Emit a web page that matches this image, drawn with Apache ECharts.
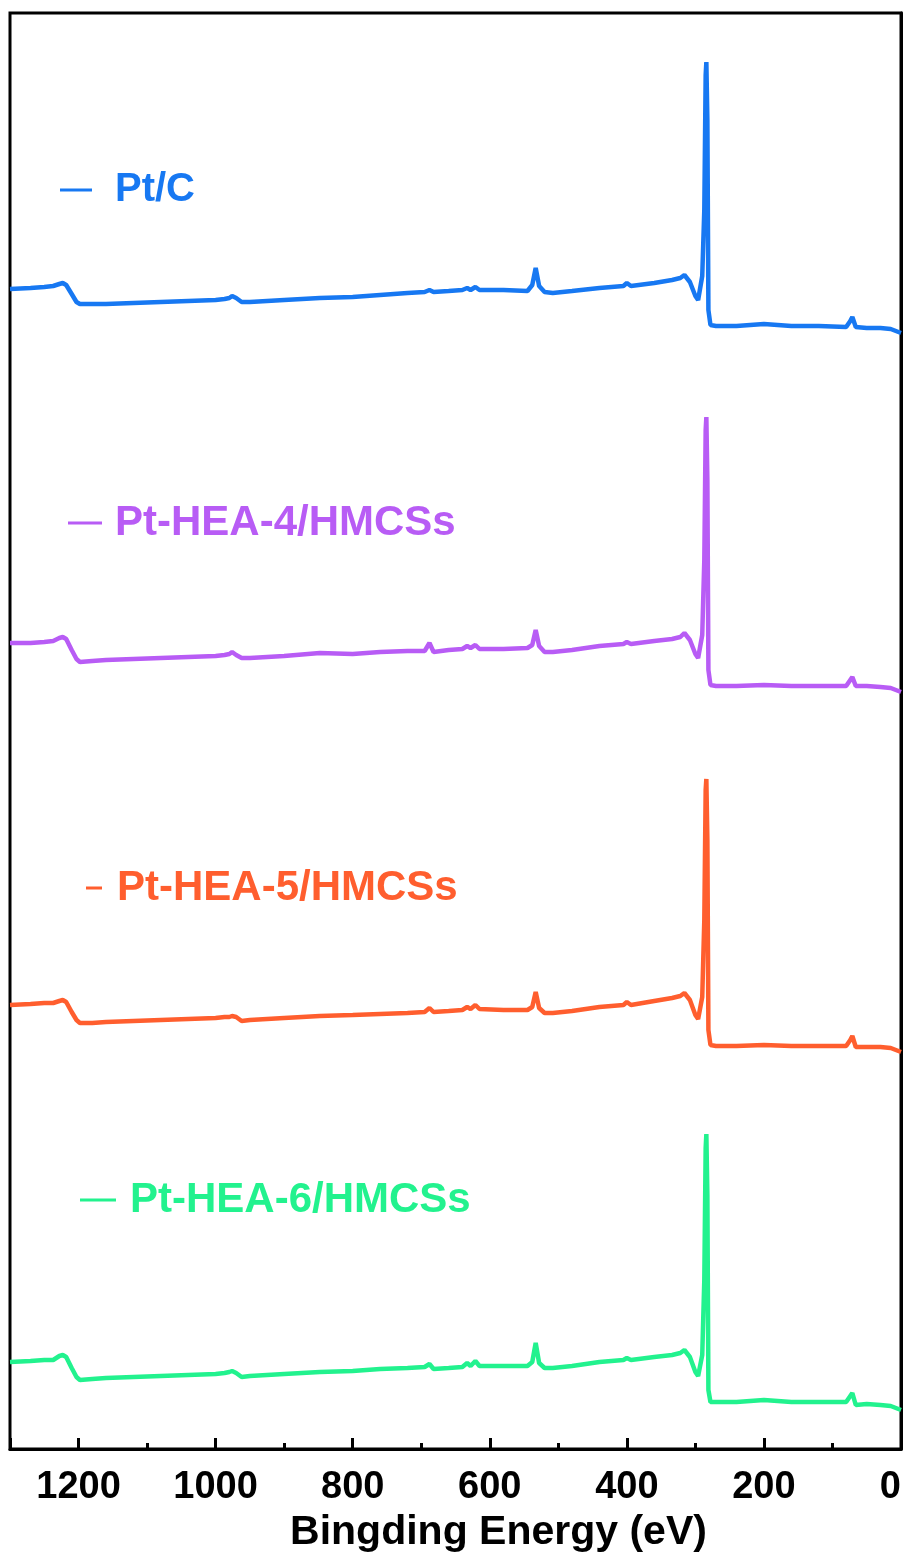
<!DOCTYPE html>
<html>
<head>
<meta charset="utf-8">
<script src="https://cdn.jsdelivr.net/npm/echarts@6/dist/echarts.min.js"></script>
<style>
html,body{margin:0;padding:0;background:#fff;overflow:hidden;}
#chart{width:909px;height:1555px;}
</style>
</head>
<body>
<div id="chart"></div>
<script>
// Binding energy grid (eV)
const energy = [1300,1270,1250,1237,1228,1223,1218,1210,1203,1198,1180,1160,1120,1080,1040,1000,987,980,976,970,962,950,900,848,800,760,720,695,688,682,660,640,633,628,621,615,580,545,538,533,528,520,508,480,440,405,400,394,360,334,322,316,308,300,296,290,287,285,284,282.5,281,278,270,240,200,160,120,80,74,71,66,50,30,15,0];

const seriesNames = ['Pt/C','Pt-HEA-4/HMCSs','Pt-HEA-5/HMCSs','Pt-HEA-6/HMCSs'];
const seriesColors = ['#1778F2','#B85CF5','#FF5E2E','#22F28E'];

// Intensities (a.u., stacked offset)
const ptC = [1160,1161,1162,1163,1165,1166,1164,1155,1147,1145,1145,1145,1146,1147,1148,1149,1150,1151,1153,1151,1147,1147,1149,1151,1152,1154,1156,1157,1159,1157,1158,1159,1161,1159,1162,1159,1159,1158,1164,1181,1163,1157,1156,1158,1161,1163,1166,1163,1166,1169,1171,1174,1167,1153,1149,1173,1239,1374,1387,1329,1139,1124,1123,1123,1125,1123,1123,1122,1128,1132,1122,1121,1121,1120,1116];
const hea4 = [806,806,807,808,811,812,810,799,790,787,788,789,790,791,792,793,794,795,797,794,791,791,793,796,795,797,798,798,806,797,799,800,803,801,804,800,800,801,804,819,803,797,797,799,803,805,807,805,808,810,812,816,809,795,791,814,889,1019,1032,969,779,764,763,763,764,763,763,763,769,772,763,763,762,761,757];
const hea5 = [444,445,446,446,448,449,447,437,429,426,426,427,428,429,430,431,432,432,433,432,428,429,431,433,434,435,436,437,441,437,438,439,442,440,444,440,439,439,442,457,441,436,436,438,442,444,447,444,448,451,453,456,449,434,430,452,529,659,670,609,419,404,403,403,404,403,403,403,409,413,402,402,402,401,397];
const hea6 = [87,88,89,89,93,94,92,81,72,69,70,71,72,73,74,75,76,77,78,76,72,73,75,77,78,80,81,82,85,80,81,82,86,83,88,83,83,83,87,106,86,81,81,83,87,89,91,89,92,94,96,99,92,77,73,94,169,301,315,254,59,47,47,47,49,47,47,47,53,56,44,45,44,43,39];

const xTicks = [0,200,400,600,800,1000,1200];

const allVals = [ptC, hea4, hea5, hea6];
const series = allVals.map((vals, k) => ({
  name: seriesNames[k],
  type: 'line',
  showSymbol: false,
  symbol: 'none',
  lineStyle: {color: seriesColors[k], width: 4.5},
  itemStyle: {color: seriesColors[k]},
  data: energy.map((e, i) => [e, vals[i]]),
  z: 3
}));

const legendPos = [
  {left: 60, top: 170, w: 32, pad: 18, fs: 40},
  {left: 68, top: 502, w: 34, pad: 8, fs: 42},
  {left: 86, top: 867, w: 16, pad: 10, fs: 42},
  {left: 80, top: 1179, w: 36, pad: 9, fs: 42}
];
const legends = seriesNames.map((n, k) => ({
  data: [n],
  left: legendPos[k].left,
  top: legendPos[k].top,
  padding: 0,
  orient: 'horizontal',
  icon: 'rect',
  itemWidth: legendPos[k].w,
  itemHeight: 3,
  selectedMode: false,
  textStyle: {
    color: seriesColors[k],
    fontSize: legendPos[k].fs,
    fontWeight: 'bold',
    fontFamily: 'Liberation Sans, Arial, sans-serif',
    padding: [0, 0, 0, legendPos[k].pad]
  }
}));

const chart = echarts.init(document.getElementById('chart'), null, {renderer: 'canvas', width: 909, height: 1555});
chart.setOption({
  animation: false,
  backgroundColor: '#fff',
  legend: legends,
  grid: {
    left: 10, right: 8, top: 13, bottom: 106,
    show: true, borderColor: '#000', borderWidth: 3,
    containLabel: false,
    outerBoundsMode: 'none'
  },
  xAxis: {
    type: 'value',
    min: 0, max: 1300, interval: 200,
    inverse: true,
    name: 'Bingding Energy (eV)',
    nameLocation: 'middle',
    nameGap: 58,
    nameTextStyle: {
      color: '#000', fontSize: 41, fontWeight: 'bold',
      fontFamily: 'Liberation Sans, Arial, sans-serif',
      padding: [0, 0, 0, 86]
    },
    axisLine: {show: true, lineStyle: {color: '#000', width: 3}},
    axisTick: {show: true, inside: true, length: 11, lineStyle: {color: '#000', width: 3}},
    minorTick: {show: true, splitNumber: 2, length: 6, lineStyle: {color: '#000', width: 3}},
    splitLine: {show: false},
    axisLabel: {
      color: '#000', fontSize: 38, fontWeight: 'bold',
      fontFamily: 'Liberation Sans, Arial, sans-serif',
      margin: 20,
      customValues: xTicks,
      alignMinLabel: 'right',
      formatter: v => String(v)
    }
  },
  yAxis: {
    type: 'value',
    min: 0, max: 1436,
    axisLine: {show: true, lineStyle: {color: '#000', width: 3}},
    axisTick: {show: false},
    axisLabel: {show: false},
    splitLine: {show: false}
  },
  series: series
});
</script>
</body>
</html>
